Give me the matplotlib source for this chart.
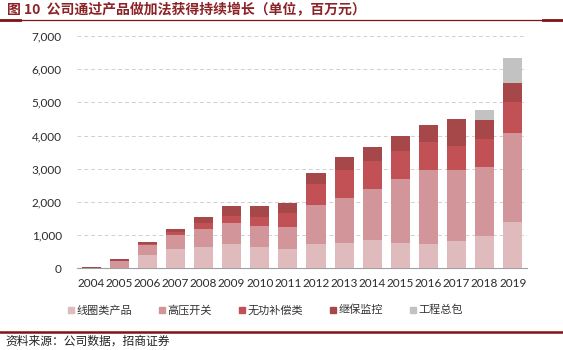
import matplotlib.pyplot as plt
import numpy as np
from matplotlib.lines import Line2D

plt.rcParams['font.family'] = ['Noto Sans CJK SC', 'DejaVu Sans']

# data (百万元)
years = ['2004', '2005', '2006', '2007', '2008', '2009', '2010', '2011',
         '2012', '2013', '2014', '2015', '2016', '2017', '2018', '2019']
coil = [0, 0, 394, 566, 640, 727, 643, 563, 723, 743, 843, 743, 723, 823, 964, 1376]
hv_switch = [10, 200, 303, 434, 550, 626, 622, 681, 1175, 1386, 1537, 1948, 2229, 2149, 2088, 2700]
reactive = [8, 25, 40, 80, 170, 223, 282, 422, 632, 843, 843, 833, 853, 712, 834, 934]
relay = [12, 40, 60, 100, 170, 303, 332, 300, 341, 380, 431, 452, 523, 804, 572, 582]
epc = [0, 0, 0, 0, 0, 0, 0, 0, 0, 0, 0, 0, 0, 0, 301, 753]

series = [coil, hv_switch, reactive, relay, epc]
labels = ['线圈类产品', '高压开关', '无功补偿类', '继保监控', '工程总包']
colors = ['#DFBBBD', '#D2959A', '#C25156', '#A6474A', '#C2C2C2']

fig = plt.figure(figsize=(5.63, 3.5), dpi=100)
ax = fig.add_axes([0.1368, 0.234, 0.799, 0.663])

x = np.arange(len(years))
bottom = np.zeros(len(years))
handles = []
for vals, lab, col in zip(series, labels, colors):
    ax.bar(x, vals, 0.68, bottom=bottom, color=col, label=lab, zorder=3)
    bottom += np.array(vals)
    handles.append(Line2D([], [], marker='s', linestyle='', markersize=5,
                          markerfacecolor=col, markeredgecolor=col))

ax.set_xlim(-0.5, 15.5)
ax.set_ylim(0, 7000)
ax.set_yticks(np.arange(0, 7001, 1000))
ax.set_yticklabels([f'{v:,}' for v in range(0, 7001, 1000)])
ax.set_xticks(x)
ax.set_xticklabels(years)
ax.tick_params(axis='both', length=0, labelsize=8.5, colors='#2b2b2b')
ax.tick_params(axis='y', pad=11)
ax.tick_params(axis='x', pad=7)
for lbl in ax.get_xticklabels() + ax.get_yticklabels():
    lbl.set_fontfamily('Lato')

ax.grid(axis='y', linestyle=(0, (4, 3)), color='#D0D0D0', linewidth=0.7, zorder=0)
for s in ['top', 'right', 'left']:
    ax.spines[s].set_visible(False)
ax.spines['bottom'].set_color('#A0A0A0')
ax.spines['bottom'].set_linewidth(0.8)

fig.legend(handles, labels, loc='center', bbox_to_anchor=(0.47, 0.114), ncol=5,
           frameon=False, fontsize=8, handlelength=0.8, handletextpad=0.1,
           columnspacing=2.3, labelcolor='#333333')

# title and rules
fig.text(0.012, 0.972, '图 10  公司通过产品做加法获得持续增长（单位，百万元）',
         fontsize=10, fontweight='bold', color='#8C2326', va='center', ha='left')
fig.add_artist(Line2D([0, 1], [0.943, 0.943], color='#7F1417', linewidth=0.9))
fig.add_artist(Line2D([0, 0.035], [0.943, 0.943], color='#7F1417', linewidth=2))
fig.add_artist(Line2D([0.965, 1], [0.943, 0.943], color='#7F1417', linewidth=2))
fig.add_artist(Line2D([0, 1], [0.052, 0.052], color='#7F1417', linewidth=1.8))
fig.text(0.01, 0.026, '资料来源：公司数据，招商证券', fontsize=8.5, color='#222222',
         va='center', ha='left')

fig.savefig('out.png', dpi=100)
